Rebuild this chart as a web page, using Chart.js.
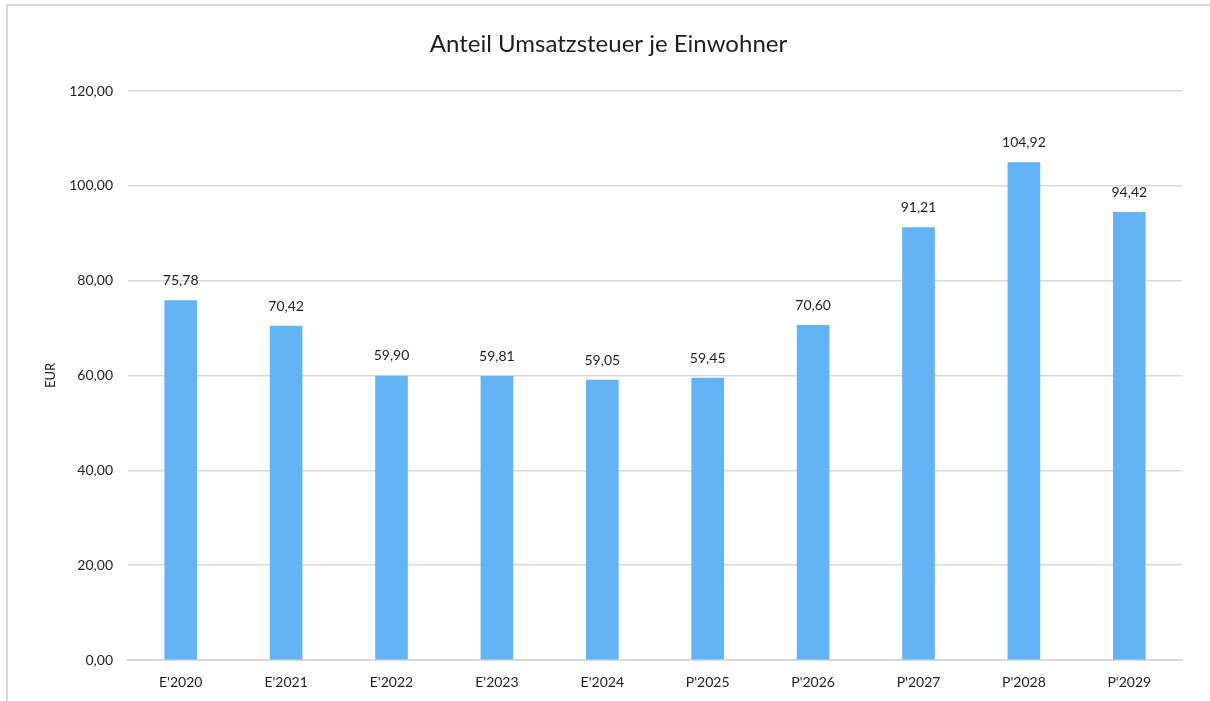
<!DOCTYPE html>
<html>
<head>
<meta charset="utf-8">
<script src="https://cdn.jsdelivr.net/npm/chart.js@4/dist/chart.umd.min.js"></script>
<style>
    html, body {
        margin: 0;
        padding: 0;
        background: #fff;
    }

    #wrap {
        position: relative;
        width: 1210px;
        height: 701px;
    }

    #frame {
        position: absolute;
        left: 6px;
        top: 4px;
        right: 0;
        bottom: 0;
        border-left: 2px solid #d9d9d9;
        border-top: 2px solid #d9d9d9;
        pointer-events: none;
    }
</style>
</head>
<body>
<div id="wrap">
    <canvas id="chart" width="1210" height="701"></canvas>
    <div id="frame"></div>
</div>
<script>
const categories = ["E'2020", "E'2021", "E'2022", "E'2023", "E'2024", "P'2025", "P'2026", "P'2027", "P'2028", "P'2029"];
const values = [75.78, 70.42, 59.90, 59.81, 59.05, 59.45, 70.60, 91.21, 104.92, 94.42];
const yTicks = [0, 20, 40, 60, 80, 100, 120];
const chartTitle = 'Anteil Umsatzsteuer je Einwohner';

const fontFamily = 'Lato, "Open Sans", sans-serif';
const textColor = '#1e1e1e';

// German number format, two decimals
const fmt = (v) => v.toFixed(2).replace('.', ',');

// Value labels above each bar
const barLabels = {
    id: 'barLabels',
    afterDatasetsDraw(chart) {
        const { ctx } = chart;
        const meta = chart.getDatasetMeta(0);

        ctx.save();
        ctx.font = `14px ${fontFamily}`;
        ctx.fillStyle = textColor;
        ctx.textAlign = 'center';
        ctx.textBaseline = 'middle';

        meta.data.forEach((bar, i) => {
            ctx.fillText(fmt(values[i]), bar.x, bar.y - 20);
        });

        ctx.restore();
    }
};

// Title centred over the whole framed area, not the padded box
const centeredTitle = {
    id: 'centeredTitle',
    afterDraw(chart) {
        const { ctx } = chart;

        ctx.save();
        ctx.font = `24px ${fontFamily}`;
        ctx.fillStyle = textColor;
        ctx.textAlign = 'center';
        ctx.textBaseline = 'middle';
        ctx.fillText(chartTitle, (7 + chart.width) / 2, 44);
        ctx.restore();
    }
};

new Chart(document.getElementById('chart'), {
    type: 'bar',
    data: {
        labels: categories,
        datasets: [{
            data: values,
            backgroundColor: '#63b4f5',
            borderWidth: 0,
            barThickness: 32
        }]
    },
    options: {
        responsive: false,
        animation: false,
        layout: {
            padding: { left: 0, right: 28, top: 91, bottom: 0 }
        },
        plugins: {
            legend: { display: false },
            tooltip: { enabled: false },
            title: { display: false }
        },
        scales: {
            x: {
                grid: { display: false, drawTicks: false },
                border: { display: true, color: '#d9d9d9', width: 2 },
                ticks: {
                    color: textColor,
                    font: { family: fontFamily, size: 14 },
                    padding: 14,
                    maxRotation: 0
                },
                afterFit: (scale) => { scale.height = 41; }
            },
            y: {
                min: 0,
                max: 120,
                afterBuildTicks: (scale) => {
                    scale.ticks = yTicks.map(v => ({ value: v }));
                },
                grid: { color: '#d9d9d9', lineWidth: 1.5, drawTicks: false },
                border: { display: false },
                ticks: {
                    color: textColor,
                    font: { family: fontFamily, size: 14 },
                    padding: 15,
                    callback: (v) => fmt(v)
                },
                title: {
                    display: true,
                    text: 'EUR',
                    color: textColor,
                    font: { family: fontFamily, size: 13 },
                    padding: { top: 43, bottom: 0 }
                },
                afterFit: (scale) => { scale.width = 128; }
            }
        }
    },
    plugins: [barLabels, centeredTitle]
});
</script>
</body>
</html>
